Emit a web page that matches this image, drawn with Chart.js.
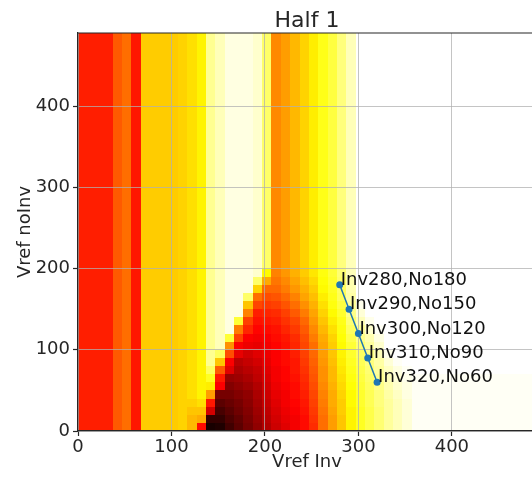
<!DOCTYPE html>
<html>
<head>
<meta charset="utf-8">
<script src="https://cdn.jsdelivr.net/npm/chart.js@4/dist/chart.umd.min.js"></script>
<style>
  html, body { margin: 0; padding: 0; overflow: hidden; background: #fff; }
  #wrap { width: 540px; height: 477px; }
</style>
</head>
<body>
<div id="wrap"><canvas id="heat" width="540" height="477"></canvas></div>
<script>
// operating points on top of the map
const invVals = [280, 290, 300, 310, 320];
const noVals = [180, 150, 120, 90, 60];
const pointLabels = ['Inv280,No180', 'Inv290,No150', 'Inv300,No120', 'Inv310,No90', 'Inv320,No60'];

const xTicks = [0, 100, 200, 300, 400];
const yTicks = [0, 100, 200, 300, 400];

// map cells are 10 x 10, 50 columns by 49 rows
const cellSize = 10;
const cellX0 = -3;
const rowCount = 49;

// level (0..100 along the hot colormap) of every column above the low rows
const bandLevels = [41, 41, 41, 41, 50, 53, 40, 67, 67, 67, 67, 68, 70, 73, 89, 93, 97, 97, 97, 95,
  85, 57, 60, 64, 68, 72, 77, 81, 87, 93, 100, 100, 100, 100, 100, 100, 100, 100, 100, 100,
  100, 100, 100, 100, 100, 100, 100, 100, 100, 100];

// rows 0..19 of columns 12..49 (bottom row first)
const lowFirstCol = 12;
const creamCol = [99, 99, 99, 99, 99, 99, 99, 100, 100, 100, 100, 100, 100, 100, 100, 100, 100, 100, 100, 100];
const lowCols = [
  [64, 64, 66, 68, 70, 70, 70, 70, 70, 70, 70, 70, 70, 70, 70, 70, 70, 70, 70, 70],
  [38, 62, 66, 70, 73, 73, 73, 73, 73, 73, 73, 73, 73, 73, 73, 73, 73, 73, 73, 73],
  [2, 6, 30, 40, 60, 72, 78, 84, 89, 89, 89, 89, 89, 89, 89, 89, 89, 89, 89, 89],
  [3, 6, 9, 12, 16, 36, 40, 50, 66, 84, 93, 93, 93, 93, 93, 93, 93, 93, 93, 93],
  [8, 10, 12, 14, 16, 18, 21, 32, 36, 48, 58, 80, 97, 97, 97, 97, 97, 97, 97, 97],
  [12, 13, 15, 16, 18, 20, 22, 24, 26, 33, 36, 46, 55, 80, 97, 97, 97, 97, 97, 97],
  [16, 17, 18, 19, 20, 22, 24, 26, 28, 30, 34, 36, 42, 46, 56, 66, 85, 97, 97, 97],
  [20, 21, 22, 23, 24, 25, 27, 28, 30, 32, 33, 35, 37, 39, 41, 47, 53, 68, 85, 95],
  [25, 26, 27, 28, 29, 30, 31, 32, 33, 34, 35, 36, 38, 40, 42, 45, 48, 52, 62, 74],
  [29, 30, 31, 32, 33, 34, 35, 35, 36, 36, 37, 38, 39, 41, 43, 46, 49, 52, 54, 56],
  [32, 33, 34, 35, 35, 36, 37, 37, 38, 38, 39, 40, 42, 44, 46, 49, 52, 55, 57, 59],
  [35, 35, 36, 37, 38, 38, 39, 40, 40, 41, 42, 43, 45, 47, 50, 53, 56, 59, 61, 63],
  [38, 38, 39, 40, 41, 42, 43, 44, 45, 46, 47, 48, 50, 52, 55, 58, 61, 63, 65, 67],
  [43, 44, 45, 46, 47, 48, 49, 50, 51, 52, 53, 55, 57, 59, 61, 63, 65, 67, 69, 71],
  [53, 53, 54, 55, 56, 57, 58, 58, 59, 60, 61, 62, 64, 66, 68, 70, 72, 74, 75, 76],
  [60, 60, 61, 62, 62, 63, 64, 64, 65, 66, 67, 68, 70, 72, 74, 76, 77, 78, 79, 80],
  [66, 66, 67, 67, 68, 69, 70, 71, 72, 73, 74, 75, 76, 77, 79, 81, 83, 84, 85, 86],
  [73, 73, 73, 74, 74, 75, 76, 77, 78, 79, 80, 82, 84, 86, 88, 90, 91, 92, 92, 93],
  [78, 78, 78, 79, 79, 80, 81, 82, 83, 84, 86, 88, 90, 93, 96, 98, 100, 100, 100, 100],
  [82, 82, 82, 83, 83, 84, 85, 86, 87, 88, 90, 92, 95, 98, 100, 100, 100, 100, 100, 100],
  [86, 86, 86, 87, 87, 88, 89, 90, 91, 93, 95, 97, 99, 100, 100, 100, 100, 100, 100, 100],
  [90, 90, 90, 90, 91, 92, 93, 94, 96, 98, 100, 100, 100, 100, 100, 100, 100, 100, 100, 100],
  [93, 93, 93, 93, 94, 95, 96, 97, 99, 100, 100, 100, 100, 100, 100, 100, 100, 100, 100, 100],
  [96, 96, 96, 96, 97, 97, 98, 99, 100, 100, 100, 100, 100, 100, 100, 100, 100, 100, 100, 100],
  creamCol, creamCol, creamCol, creamCol, creamCol, creamCol, creamCol,
  creamCol, creamCol, creamCol, creamCol, creamCol, creamCol, creamCol
];

const FONT = '"DejaVu Sans", sans-serif';
const TEXT = '#262626';

// matplotlib "hot"
function hot(t) {
  const r = Math.min(1, 0.0416 + 0.9584 * t / 0.365079);
  const g = Math.min(1, Math.max(0, (t - 0.365079) / 0.380953));
  const b = Math.min(1, Math.max(0, (t - 0.746032) / 0.253968));
  return `rgb(${Math.round(r * 255)},${Math.round(g * 255)},${Math.round(b * 255)})`;
}

function levelAt(col, row) {
  const k = col - lowFirstCol;
  if (k >= 0 && k < lowCols.length && row < lowCols[k].length) return lowCols[k][row];
  return bandLevels[col];
}

const heatmap = {
  id: 'heatmap',
  beforeDraw(chart) {
    const {ctx, chartArea: a, scales: {x, y}} = chart;
    ctx.save();
    ctx.beginPath();
    ctx.rect(a.left, a.top, a.right - a.left, a.bottom - a.top);
    ctx.clip();
    for (let c = 0; c < bandLevels.length; c++) {
      const xa = Math.round(x.getPixelForValue(cellX0 + c * cellSize));
      const xb = Math.round(x.getPixelForValue(cellX0 + (c + 1) * cellSize));
      for (let r = 0; r < rowCount; r++) {
        const ya = Math.round(y.getPixelForValue(r * cellSize));
        const yb = Math.round(y.getPixelForValue((r + 1) * cellSize));
        ctx.fillStyle = hot(levelAt(c, r) / 100);
        ctx.fillRect(xa, yb, xb - xa, ya - yb);
      }
    }
    ctx.restore();
  }
};

// title, top spine and point annotations
const decorations = {
  id: 'decorations',
  afterDatasetsDraw(chart) {
    const {ctx} = chart;
    const meta = chart.getDatasetMeta(0);
    ctx.save();
    ctx.font = `18px ${FONT}`;
    ctx.fillStyle = '#111';
    ctx.textAlign = 'left';
    ctx.textBaseline = 'alphabetic';
    meta.data.forEach((pt, i) => ctx.fillText(pointLabels[i], pt.x + 1, pt.y));
    ctx.restore();
  },
  afterDraw(chart) {
    const {ctx, chartArea: a} = chart;
    ctx.save();
    ctx.strokeStyle = TEXT;
    ctx.lineWidth = 1.2;
    ctx.beginPath();
    ctx.moveTo(a.left, a.top);
    ctx.lineTo(a.right, a.top);
    ctx.lineTo(a.right, a.bottom);
    ctx.stroke();
    ctx.font = `22px ${FONT}`;
    ctx.fillStyle = TEXT;
    ctx.textAlign = 'center';
    ctx.textBaseline = 'alphabetic';
    ctx.fillText('Half 1', (a.left + a.right) / 2, 27);
    ctx.restore();
  }
};

function axis(min, max, ticks, label, horizontal) {
  return {
    type: 'linear',
    min: min,
    max: max,
    afterBuildTicks: s => { s.ticks = ticks.map(v => ({value: v})); },
    afterFit: s => { if (horizontal) s.height = 46; else s.width = 78; },
    ticks: {font: {family: FONT, size: 18}, color: TEXT, padding: horizontal ? 1 : 3, maxRotation: 0, autoSkip: false},
    grid: {color: 'rgba(176,176,176,0.75)', lineWidth: 1, tickColor: TEXT, tickLength: 5, tickWidth: 1.2},
    border: {color: TEXT, width: 1.2},
    title: {
      display: true, text: label, color: TEXT,
      font: {family: FONT, size: 18},
      padding: horizontal ? {top: 0, bottom: 4} : {top: 15, bottom: 0}
    }
  };
}

new Chart(document.getElementById('heat'), {
  type: 'scatter',
  data: {
    datasets: [{
      data: invVals.map((v, i) => ({x: v, y: noVals[i]})),
      showLine: true,
      borderColor: '#1f77b4',
      backgroundColor: '#1f77b4',
      borderWidth: 1.5,
      pointRadius: 3.5,
      pointBorderWidth: 0
    }]
  },
  options: {
    responsive: false,
    animation: false,
    events: [],
    layout: {padding: {top: 33, right: 2, left: 0, bottom: 0}},
    plugins: {legend: {display: false}, tooltip: {enabled: false}},
    scales: {
      x: axis(0, 490, xTicks, 'Vref Inv', true),
      y: axis(0, 490, yTicks, 'Vref noInv', false)
    }
  },
  plugins: [heatmap, decorations]
});
</script>
</body>
</html>
